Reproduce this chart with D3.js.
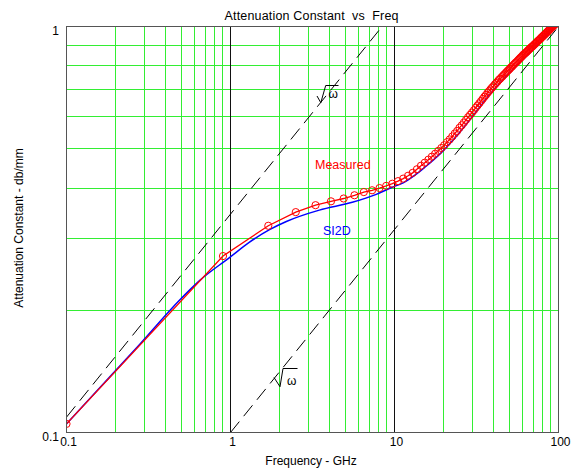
<!DOCTYPE html>
<html><head><meta charset="utf-8">
<script src="https://cdn.jsdelivr.net/npm/d3@7"></script>
<style>
html,body{margin:0;padding:0;background:#fff;}
svg{display:block;}
text{font-family:"Liberation Sans",Arial,sans-serif;white-space:pre;}
</style>
</head><body>
<svg id="c" width="572" height="469"></svg>
<script>
// ---------------- data ----------------
const chartTitle = "Attenuation Constant  vs  Freq";
const xAxisTitle = "Frequency - GHz";
const yAxisTitle = "Attenuation Constant - db/mm";
const xTickValues = [0.1, 1, 10, 100];
const xTickLabels = ["0.1", "1", "10", "100"];
const yTickValues = [0.1, 1];
const yTickLabels = ["0.1", "1"];

// Measured (GHz, dB/mm)
const measFreq = [0.1,0.9,1.7,2.5,3.3,4.1,4.9,5.7,6.5,7.3,8.1,8.9,9.7,10.5,11.3,12.1,12.9,13.7,
  14.5,15.3,16.1,16.9,17.7,18.5,19.3,20.1,20.9,21.7,22.5,23.3,24.1,24.9,25.7,26.5,27.3,28.1,28.9,29.7,
  30.5,31.3,32.1,32.9,33.7,34.5,35.3,36.1,36.9,37.7,38.5,39.3,40.1,40.9,41.7,42.5,43.3,44.1,44.9,45.7,
  46.5,47.3,48.1,48.9,49.7,50.5,51.3,52.1,52.9,53.7,54.5,55.3,56.1,56.9,57.7,58.5,59.3,60.1,60.9,61.7,
  62.5,63.3,64.1,64.9,65.7,66.5,67.3,68.1,68.9,69.7,70.5,71.3,72.1,72.9,73.7,74.5,75.3,76.1,76.9,77.7,
  78.5,79.3,80.1,80.9,81.7,82.5,83.3,84.1,84.9,85.7,86.5,87.3,88.1,88.9,89.7,90.5,91.3,92.1,92.9,93.7,
  94.5,95.3,96.1,96.9,97.7,98.5,99.3];
const measAtten = [0.105,0.272,0.323,0.349,0.363,0.371,0.377,0.384,0.391,0.395,0.400,0.405,0.410,0.416,0.422,0.429,0.436,0.445,
  0.454,0.462,0.470,0.478,0.486,0.494,0.502,0.510,0.519,0.527,0.536,0.545,0.553,0.563,0.571,0.580,0.589,0.598,0.606,0.614,
  0.622,0.631,0.639,0.647,0.655,0.663,0.671,0.678,0.686,0.693,0.700,0.707,0.713,0.720,0.726,0.732,0.739,0.744,0.750,0.755,
  0.761,0.766,0.772,0.777,0.782,0.787,0.793,0.797,0.803,0.808,0.813,0.817,0.822,0.827,0.832,0.837,0.841,0.846,0.851,0.855,
  0.859,0.863,0.867,0.871,0.876,0.880,0.884,0.888,0.892,0.895,0.899,0.903,0.907,0.911,0.915,0.919,0.923,0.926,0.930,0.934,
  0.938,0.942,0.945,0.949,0.953,0.956,0.960,0.964,0.967,0.971,0.975,0.978,0.982,0.986,0.989,0.993,0.996,1.000,1.003,1.007,
  1.010,1.013,1.017,1.020,1.024,1.027,1.030];

// SI2D simulation (GHz, dB/mm)
const si2dFreq  = [0.1, 0.16, 0.28, 0.49, 0.65, 0.99, 1.3, 1.73, 2.19, 3.48, 5.53, 7.74, 9.7, 11.3, 13.7, 15.3, 19.3, 24.1, 31.3, 37.7, 51.3, 70.5, 91.3, 100];
const si2dAtten = [0.105,0.129,0.165,0.212,0.237,0.270,0.294,0.316,0.331,0.353,0.369,0.386,0.402,0.412,0.434,0.450,0.489,0.539,0.615,0.676,0.775,0.880,0.982,1.015];

// sqrt(omega) reference lines: attenuation = coef * sqrt(f)
const sqrtRefCoef = [0.345, 0.1];

// ---------------- drawing ----------------
const L = 66.5, R = 558.5, T = 26.5, B = 432.5;
const svg = d3.select("#c");
const x = d3.scaleLog().domain([0.1, 100]).range([L, R]);
const y = d3.scaleLog().domain([0.1, 1]).range([B, T]);
const snap = v => Math.round(v - 0.5) + 0.5;
const isDecade = t => Math.abs(Math.log10(t) - Math.round(Math.log10(t))) < 1e-9;

svg.append("defs").append("clipPath").attr("id", "plotclip")
  .append("rect").attr("x", L).attr("y", T).attr("width", R - L).attr("height", B - T);

const grid = svg.append("g");
const GREEN = "#33ee33";
x.ticks().filter(t => !isDecade(t)).forEach(t => {
  grid.append("line").attr("x1", snap(x(t))).attr("x2", snap(x(t))).attr("y1", T).attr("y2", B)
    .attr("stroke", GREEN).attr("stroke-width", 1);
});
y.ticks().filter(t => !isDecade(t)).forEach(t => {
  grid.append("line").attr("y1", snap(y(t))).attr("y2", snap(y(t))).attr("x1", L).attr("x2", R)
    .attr("stroke", GREEN).attr("stroke-width", 1);
});
x.ticks().filter(t => isDecade(t) && t > 0.1 && t < 100).forEach(t => {
  grid.append("line").attr("x1", snap(x(t))).attr("x2", snap(x(t))).attr("y1", T).attr("y2", B)
    .attr("stroke", "#111").attr("stroke-width", 1);
});

const plot = svg.append("g").attr("clip-path", "url(#plotclip)");

// dashed sqrt(omega) lines
const refLine = d3.line().x(d => x(d[0])).y(d => y(d[1]));
sqrtRefCoef.forEach(c => {
  const f0 = Math.max(0.1, Math.pow(0.1 / c, 2));
  plot.append("path").datum([[f0, c * Math.sqrt(f0)], [100, c * Math.sqrt(100)]])
    .attr("d", refLine).attr("fill", "none").attr("stroke", "#000").attr("stroke-width", 1)
    .attr("stroke-dasharray", "14,7");
});

// SI2D
const si2d = d3.zip(si2dFreq, si2dAtten);
plot.append("path").datum(si2d)
  .attr("d", d3.line().x(d => x(d[0])).y(d => y(d[1])).curve(d3.curveMonotoneX))
  .attr("fill", "none").attr("stroke", "#0000ff").attr("stroke-width", 1.5);

// Measured
const meas = d3.zip(measFreq, measAtten);
plot.append("path").datum(meas)
  .attr("d", d3.line().x(d => x(d[0])).y(d => y(d[1])))
  .attr("fill", "none").attr("stroke", "#ff0000").attr("stroke-width", 1.3);
plot.selectAll("circle.m").data(meas).enter().append("circle").attr("class", "m")
  .attr("cx", d => x(d[0])).attr("cy", d => y(d[1])).attr("r", 3.6)
  .attr("fill", "none").attr("stroke", "#ff0000").attr("stroke-width", 1);

// frame
svg.append("rect").attr("x", L).attr("y", T).attr("width", R - L).attr("height", B - T)
  .attr("fill", "none").attr("stroke", "#555").attr("stroke-width", 1);

// axes tick labels
const xAxis = d3.axisBottom(x).tickValues(xTickValues).tickSize(0)
  .tickFormat((d, i) => xTickLabels[i]);
const gx = svg.append("g").attr("transform", `translate(1.5,${B})`).call(xAxis);
gx.select(".domain").remove();
gx.selectAll("text").attr("font-family", "Liberation Sans, Arial, sans-serif")
  .attr("font-size", 12).attr("fill", "#000").attr("dy", 0).attr("y", 13.5);

const yAxis = d3.axisLeft(y).tickValues(yTickValues).tickSize(0)
  .tickFormat((d, i) => yTickLabels[i]);
const gy = svg.append("g").call(yAxis);
gy.select(".domain").remove();
gy.selectAll("text").attr("font-family", "Liberation Sans, Arial, sans-serif")
  .attr("font-size", 12).attr("fill", "#000").attr("x", L - 7.5).attr("dy", "0.65em");

// titles
svg.append("text").attr("x", 311.5).attr("y", 20).attr("text-anchor", "middle")
  .attr("font-size", 12.5).attr("textLength", 174).attr("lengthAdjust", "spacing")
  .attr("fill", "#000").text(chartTitle);
svg.append("text").attr("x", 311).attr("y", 465).attr("text-anchor", "middle")
  .attr("font-size", 12).attr("fill", "#000").text(xAxisTitle);
svg.append("text").attr("transform", "translate(23,228) rotate(-90)").attr("text-anchor", "middle")
  .attr("font-size", 12).attr("fill", "#000").text(yAxisTitle);

// series labels
svg.append("text").attr("x", 315).attr("y", 169).attr("font-size", 12.5).attr("fill", "#ff0000").text("Measured");
svg.append("text").attr("x", 323).attr("y", 234.5).attr("font-size", 12.5).attr("fill", "#0000ff").text("SI2D");

// sqrt(omega) annotations
function sqrtLabel(pts, tx, ty) {
  svg.append("path").attr("d", d3.line()(pts)).attr("fill", "none")
    .attr("stroke", "#000").attr("stroke-width", 1);
  svg.append("text").attr("x", tx).attr("y", ty).attr("font-family", "Liberation Serif, serif")
    .attr("font-size", 12).attr("fill", "#000").text("ω");
}
sqrtLabel([[317, 96], [320.8, 102.7], [325.7, 85.5], [338.5, 85.5]], 328.5, 98);
sqrtLabel([[274, 377.5], [280, 386.7], [283, 368.5], [297.5, 368.5]], 287, 384.5);
</script>
</body></html>
